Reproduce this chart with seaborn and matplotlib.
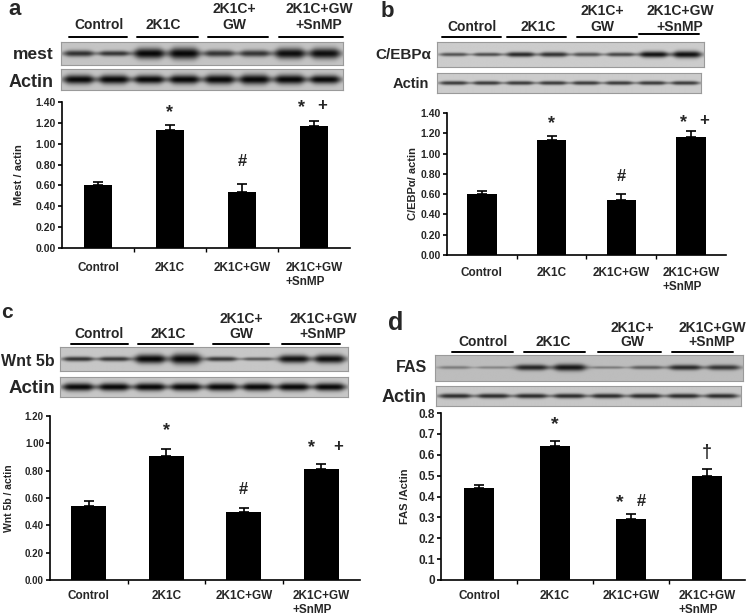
import numpy as np
import pandas as pd
import matplotlib
matplotlib.use("Agg")
import matplotlib.pyplot as plt
from matplotlib.lines import Line2D
import seaborn as sns

sns.set_theme(style="white")
plt.rcParams['font.family'] = ['Liberation Sans', 'DejaVu Sans']
plt.rcParams['font.weight'] = 'bold'

W, H = 748, 614

# ---------------- data ----------------
groups = ["Control", "2K1C", "2K1C+GW", "2K1C+GW\n+SnMP"]
lane_headers = ["Control", "2K1C", "2K1C+\nGW", "2K1C+GW\n+SnMP"]

mest_vals = [0.60, 1.13, 0.54, 1.17]
mest_err = [0.03, 0.05, 0.07, 0.05]
cebpa_vals = [0.60, 1.13, 0.54, 1.16]
cebpa_err = [0.03, 0.04, 0.06, 0.06]
wnt_vals = [0.54, 0.91, 0.50, 0.81]
wnt_err = [0.04, 0.05, 0.03, 0.04]
fas_vals = [0.44, 0.64, 0.29, 0.50]
fas_err = [0.015, 0.025, 0.025, 0.03]

ticks_a = [0.0, 0.2, 0.4, 0.6, 0.8, 1.0, 1.2, 1.4]
ticks_c = [0.0, 0.2, 0.4, 0.6, 0.8, 1.0, 1.2]
ticks_d = [0.0, 0.1, 0.2, 0.3, 0.4, 0.5, 0.6, 0.7, 0.8]
tick_labels_d = ["0", "0.1", "0.2", "0.3", "0.4", "0.5", "0.6", "0.7", "0.8"]

# band darkness / thickness for the 8 lanes of each blot
mest_band = [0.75, 0.72, 0.95, 0.95, 0.72, 0.72, 0.92, 0.92]
mest_thick = [0.28, 0.24, 0.46, 0.5, 0.3, 0.3, 0.46, 0.46]
actin_a_band = [0.95] * 8
actin_a_thick = [0.44, 0.44, 0.42, 0.44, 0.46, 0.48, 0.46, 0.42]
cebpa_band = [0.6, 0.62, 0.8, 0.75, 0.6, 0.65, 0.9, 0.92]
cebpa_thick = [0.15, 0.15, 0.2, 0.2, 0.17, 0.17, 0.25, 0.28]
actin_b_band = [0.72] * 8
actin_b_thick = [0.2] * 8
wnt_band = [0.75, 0.72, 0.95, 0.95, 0.72, 0.55, 0.9, 0.92]
wnt_thick = [0.2, 0.2, 0.38, 0.44, 0.2, 0.15, 0.34, 0.36]
actin_c_band = [0.95] * 8
actin_c_thick = [0.4] * 8
fas_band = [0.35, 0.3, 0.8, 0.88, 0.35, 0.5, 0.78, 0.72]
fas_thick = [0.12, 0.1, 0.22, 0.26, 0.1, 0.14, 0.2, 0.2]
actin_d_band = [0.78] * 8
actin_d_thick = [0.24] * 8

fig = plt.figure(figsize=(W / 100, H / 100), dpi=100)
fig.patch.set_facecolor("white")


def add_ax(x0, y0, x1, y1):
    return fig.add_axes([x0 / W, 1 - y1 / H, (x1 - x0) / W, (y1 - y0) / H])


def ftext(x, y, s, fs, ha="center", va="baseline", **kw):
    fig.text(x / W, 1 - y / H, s, fontsize=fs, fontweight="bold", ha=ha, va=va, **kw)


def hline(x0, x1, y, lw=1.4):
    fig.add_artist(Line2D([x0 / W, x1 / W], [1 - y / H, 1 - y / H],
                          transform=fig.transFigure, color="black", lw=lw))


def blot(rect, dark, thick, bg=0.78):
    ax = add_ax(*rect)
    nx, ny = 500, 80
    xs = np.linspace(0, 1, nx)[None, :]
    ys = np.linspace(0, 1, ny)[:, None]
    img = np.full((ny, nx), bg)
    hw = 0.42 / 8
    for i, (d, t) in enumerate(zip(dark, thick)):
        cx = (i + 0.5) / 8
        px = 1.0 / (1.0 + ((xs - cx) / hw) ** 6)
        s = t / 2 * (0.6 + 0.4 * px)
        py = np.exp(-((ys - 0.5) / np.maximum(s, 1e-3)) ** 2)
        img = img - bg * d * px * py
    ax.imshow(np.clip(img, 0, 1), cmap="gray", vmin=0, vmax=1, aspect="auto",
              interpolation="bilinear")
    ax.set_xticks([])
    ax.set_yticks([])
    for sp in ax.spines.values():
        sp.set_color("#9a9a9a")
        sp.set_linewidth(0.8)
    return ax


def headers(centers, base1, base2, fs, lines):
    for cx, lab in zip(centers, lane_headers):
        parts = lab.split("\n")
        if len(parts) == 1:
            ftext(cx, base2, parts[0], fs)
        else:
            ftext(cx, base1, parts[0], fs)
            ftext(cx, base2, parts[1], fs)
    for (x0, x1, y) in lines:
        hline(x0, x1, y)


def bar_panel(rect, vals, errs, ticks, ticklabels, ylabel, ylab_x, tick_fs, xtick_fs,
              xpad, width, annots, ylab_fs):
    ax = add_ax(*rect)
    df = pd.DataFrame({"group": groups, "value": vals})
    sns.barplot(data=df, x="group", y="value", color="black", saturation=1,
                width=width, errorbar=None, ax=ax, linewidth=0)
    ax.errorbar(np.arange(4), vals, yerr=[np.zeros(4), errs], fmt="none",
                ecolor="black", elinewidth=1.2, capsize=3.5, capthick=1.2)
    ax.set_xlim(-0.5, 3.5)
    ax.set_ylim(ticks[0], ticks[-1])
    ax.set_yticks(ticks)
    ax.set_yticklabels(ticklabels, fontsize=tick_fs, fontweight="bold")
    ax.set_xticks(range(4))
    ax.set_xticklabels(groups, fontsize=xtick_fs, fontweight="bold")
    for lbl in ax.get_xticklabels():
        lbl.set_multialignment("left")
    ax.set_xticks([0.5, 1.5, 2.5], minor=True)
    ax.tick_params(axis="x", which="major", length=0, pad=xpad)
    ax.tick_params(axis="x", which="minor", length=3, width=1, direction="out",
                   color="black", bottom=True)
    ax.tick_params(axis="y", length=3, width=1.2, direction="out", color="black",
                   left=True, pad=1.5)
    ax.set_xlabel("")
    ax.set_ylabel(ylabel, fontsize=ylab_fs, fontweight="bold")
    x0, y0, x1, y1 = rect
    ax.yaxis.set_label_coords((ylab_x - x0) / (x1 - x0), 0.5)
    for side in ["top", "right"]:
        ax.spines[side].set_visible(False)
    for side in ["left", "bottom"]:
        ax.spines[side].set_color("black")
        ax.spines[side].set_linewidth(1.2)
    ax.patch.set_alpha(0)
    for (txt, x, y, fs) in annots:
        ax.text(x, y, txt, ha="center", va="center", fontsize=fs, fontweight="bold")
    return ax


fmt2 = lambda ts: ["%.2f" % t for t in ts]

# ---------------- panel a ----------------
ftext(8, 15, "a", 16, ha="left")
headers([99, 163, 234, 319], 13, 29, 10,
        [(69, 127, 37), (137, 198, 37), (208, 268, 37), (279, 343, 37)])
blot((61, 42, 343, 65), mest_band, mest_thick, bg=0.77)
blot((61, 69, 343, 90), actin_a_band, actin_a_thick, bg=0.77)
ftext(54, 59, "mest", 12.5, ha="right")
ftext(54, 87, "Actin", 13, ha="right")
bar_panel((62, 102, 350, 248), mest_vals, mest_err, ticks_a, fmt2(ticks_a),
          "Mest / actin", 24, 7.5, 8.5, 10, 0.4,
          [("*", 1, 1.30, 13), ("#", 2, 0.83, 12), ("*", 2.83, 1.35, 13), ("+", 3.11, 1.37, 12)],
          8)

# ---------------- panel b ----------------
ftext(381, 17, "b", 16, ha="left")
headers([472, 538, 602, 680], 15, 31, 10,
        [(442, 501, 37), (507, 566, 37), (577, 637, 37), (639, 699, 34)])
blot((437, 42, 704, 67), cebpa_band, cebpa_thick, bg=0.8)
blot((437, 73, 701, 93), actin_b_band, actin_b_thick, bg=0.8)
ftext(431, 59, "C/EBPα", 11, ha="right")
ftext(429, 88, "Actin", 10.5, ha="right")
bar_panel((447, 113, 726, 255), cebpa_vals, cebpa_err, ticks_a, fmt2(ticks_a),
          "C/EBPα/ actin", 418, 7.5, 8.5, 9, 0.42,
          [("*", 1, 1.30, 13), ("#", 2, 0.77, 12), ("*", 2.89, 1.31, 13), ("+", 3.18, 1.33, 12)],
          8)

# ---------------- panel c ----------------
ftext(1, 318, "c", 15, ha="left")
headers([99, 168, 241, 323], 323, 338, 10,
        [(71, 128, 344), (138, 193, 344), (213, 269, 344), (282, 340, 344)])
blot((60, 347, 348, 371), wnt_band, wnt_thick, bg=0.78)
blot((60, 377, 348, 397), actin_c_band, actin_c_thick, bg=0.78)
ftext(1, 366, "Wnt 5b", 11.5, ha="left")
ftext(55, 393, "Actin", 13.5, ha="right")
bar_panel((50, 416, 360, 580), wnt_vals, wnt_err, ticks_c, fmt2(ticks_c),
          "Wnt 5b / actin", 14, 7, 8.5, 7, 0.45,
          [("*", 1, 1.09, 13), ("#", 2, 0.66, 12), ("*", 2.87, 0.97, 13), ("+", 3.22, 0.98, 12)],
          7.5)

# ---------------- panel d ----------------
ftext(388, 330, "d", 18, ha="left")
headers([483, 553, 632, 712], 332, 346, 10,
        [(452, 513, 352), (524, 585, 352), (598, 661, 352), (672, 733, 352)])
blot((435, 355, 743, 381), fas_band, fas_thick, bg=0.74)
blot((436, 386, 741, 406), actin_d_band, actin_d_thick, bg=0.78)
ftext(427, 372, "FAS", 11.5, ha="right")
ftext(427, 402, "Actin", 13, ha="right")
bar_panel((441, 413, 745, 580), fas_vals, fas_err, ticks_d, tick_labels_d,
          "FAS /Actin", 410, 8.5, 8.5, 7, 0.4,
          [("*", 1, 0.745, 14), ("*", 1.85, 0.37, 14), ("#", 2.13, 0.375, 12), ("†", 3, 0.61, 13)],
          8)

fig.savefig("out.png", dpi=100, facecolor="white")
